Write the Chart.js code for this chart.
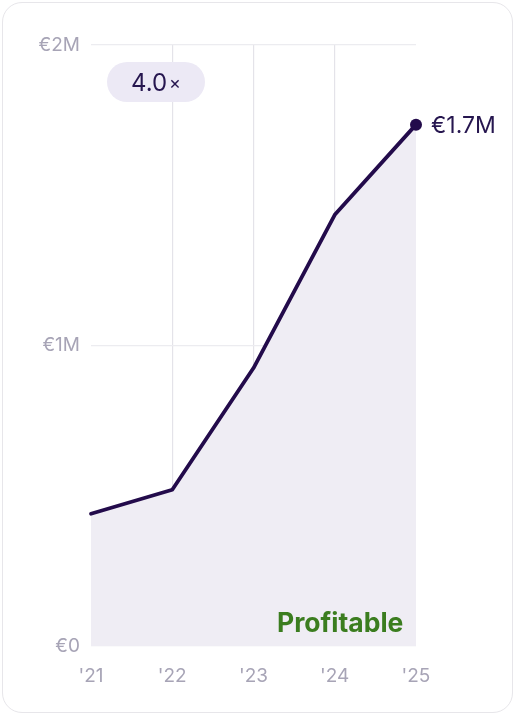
<!DOCTYPE html>
<html><head><meta charset="utf-8">
<script src="https://cdn.jsdelivr.net/npm/chart.js@4"></script>
<style>
html,body{margin:0;padding:0;background:#fff;width:515px;height:716px;overflow:hidden;font-family:Inter,"Noto Sans",sans-serif;}
#card{position:absolute;left:2px;top:2px;width:509px;height:709px;border:1px solid #e7e6ea;border-radius:20px;box-sizing:content-box;}
#wrap{position:absolute;left:0;top:0;width:515px;height:716px;}
#badge{position:absolute;left:107px;top:62px;width:98px;height:40px;border-radius:20px;background:#ece9f5;color:#26164f;font-size:24px;display:flex;align-items:center;justify-content:center;}
#badge span{font-size:18px;margin-left:2px;}
#endlbl{position:absolute;color:#26164f;font-size:23px;line-height:24px;white-space:nowrap;}
#profit{position:absolute;left:277px;top:606px;color:#3b7d1f;font-weight:700;font-size:26.5px;line-height:32px;}
</style></head>
<body>
<div id="card"></div>
<div id="wrap"><canvas id="c" width="515" height="716"></canvas></div>
<div id="badge">4.0<span>×</span></div>
<div id="endlbl">€1.7M</div>
<div id="profit">Profitable</div>
<script>
const years = ["'21","'22","'23","'24","'25"];
const revenue = [0.44, 0.52, 0.925, 1.435, 1.735]; // € millions
const yTicks = [0, 1, 2];
const yTickLabels = {0:"€0", 1:"€1M", 2:"€2M"};
const endLabel = "€1.7M";

const lineColor = '#230b4b';
const n = revenue.length;
const chart = new Chart(document.getElementById('c'), {
  type:'line',
  data:{labels:years, datasets:[{
    data:revenue, borderColor:lineColor, borderWidth:3.8, tension:0,
    fill:'origin', backgroundColor:'#efedf4',
    pointRadius: revenue.map((v,i)=> i===n-1 ? 6 : 0),
    pointBackgroundColor:lineColor, pointBorderWidth:0,
    borderJoinStyle:'round', borderCapStyle:'round'
  }]},
  options:{
    responsive:false, animation:false,
    layout:{padding:{left:0, top:45, right:99, bottom:0}},
    plugins:{legend:{display:false}, tooltip:{enabled:false}},
    scales:{
      x:{
        offset:false,
        border:{display:false},
        grid:{drawTicks:false, color:(ctx)=> (ctx.index===0||ctx.index===n-1)?'rgba(0,0,0,0)':'#e4e3e9', lineWidth:1.2},
        ticks:{color:'#a7a4b6', font:{family:'Inter', size:19}, padding:19},
        afterFit:(s)=>{s.height=70;}
      },
      y:{
        min:0, max:2,
        border:{display:false},
        grid:{drawTicks:false, color:'#ececf0', lineWidth:1.2},
        ticks:{stepSize:1, color:'#a7a4b6', font:{family:'Inter', size:19}, padding:11,
          callback:(v)=> yTickLabels[v] ?? ''},
        afterFit:(s)=>{s.width=91;}
      }
    }
  }
});
const xs = chart.scales.x, ys = chart.scales.y;
const lbl = document.getElementById('endlbl');
lbl.style.left = (xs.getPixelForValue(n-1) + 15) + 'px';
lbl.style.top = (ys.getPixelForValue(revenue[n-1]) - 12) + 'px';
lbl.textContent = endLabel;
</script>
</body></html>
